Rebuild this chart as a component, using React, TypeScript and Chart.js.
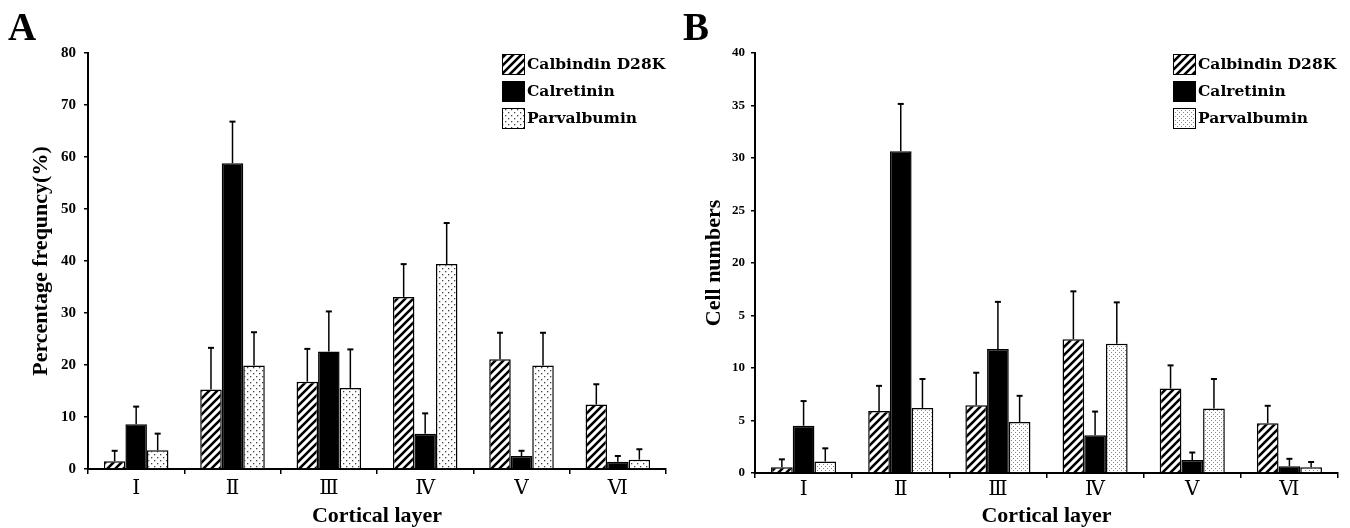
import React, { useEffect, useRef } from 'react';
import { Chart, registerables } from 'chart.js';

Chart.register(...registerables);

// ---------- data ----------
const categories = ['Ⅰ', 'Ⅱ', 'Ⅲ', 'Ⅳ', 'Ⅴ', 'Ⅵ'];
const seriesNames = ['Calbindin D28K', 'Calretinin', 'Parvalbumin'];

// Panel A: percentage frequency (%)
const calbindinPct = [1.5, 15.3, 16.8, 33.1, 21.1, 12.4];
const calbindinPctErr = [2.0, 8.0, 6.3, 6.3, 5.1, 3.9];
const calretininPct = [8.6, 58.8, 22.6, 6.8, 2.5, 1.4];
const calretininPctErr = [3.4, 8.0, 7.7, 3.9, 1.0, 1.1];
const parvalbuminPct = [3.6, 19.9, 15.6, 39.4, 19.9, 1.8];
const parvalbuminPctErr = [3.2, 6.4, 7.4, 7.9, 6.3, 2.0];

// Panel B: cell numbers
const calbindinNum = [0.55, 5.9, 6.45, 12.75, 8.05, 4.75];
const calbindinNumErr = [0.75, 2.4, 3.1, 4.55, 2.2, 1.65];
const calretininNum = [4.5, 30.65, 11.8, 3.6, 1.25, 0.65];
const calretininNumErr = [2.35, 4.5, 4.5, 2.25, 0.7, 0.7];
const parvalbuminNum = [1.1, 6.2, 4.85, 12.3, 6.15, 0.55];
const parvalbuminNumErr = [1.25, 2.75, 2.5, 3.95, 2.8, 0.5];

// tick labels of panel B as printed in the figure
const cellTickLabels = ['0', '5', '10', '5', '20', '25', '30', '35', '40'];

const SERIF = '"Liberation Serif", "Times New Roman", "DejaVu Serif", serif';

// ---------- patterns ----------
function makeHatch(): CanvasPattern | string {
  const s = 8;
  const c = document.createElement('canvas');
  c.width = s;
  c.height = s;
  const g = c.getContext('2d');
  if (!g) return '#fff';
  g.fillStyle = '#fff';
  g.fillRect(0, 0, s, s);
  g.strokeStyle = '#000';
  g.lineWidth = 2.6;
  g.beginPath();
  for (const k of [-s, 0, s]) {
    g.moveTo(k - 1, s + 1);
    g.lineTo(k + s + 1, -1);
  }
  g.stroke();
  return g.createPattern(c, 'repeat') || '#fff';
}

function makeDots(size: number, pts: number[][], color: string, dot: number): CanvasPattern | string {
  const c = document.createElement('canvas');
  c.width = size;
  c.height = size;
  const g = c.getContext('2d');
  if (!g) return '#fff';
  g.fillStyle = '#fff';
  g.fillRect(0, 0, size, size);
  g.fillStyle = color;
  pts.forEach(([x, y]) => g.fillRect(x, y, dot, dot));
  return g.createPattern(c, 'repeat') || '#fff';
}

// ---------- plugins ----------
const errorBarPlugin = {
  id: 'errorBars',
  afterDatasetsDraw(chart: any) {
    const ctx = chart.ctx;
    const yScale = chart.scales.y;
    chart.data.datasets.forEach((ds: any, i: number) => {
      const meta = chart.getDatasetMeta(i);
      meta.data.forEach((bar: any, j: number) => {
        const v = ds.data[j];
        const e = ds.errors[j];
        const top = yScale.getPixelForValue(v + e);
        ctx.save();
        ctx.strokeStyle = '#000';
        ctx.lineWidth = 1.5;
        ctx.beginPath();
        ctx.moveTo(bar.x, bar.y);
        ctx.lineTo(bar.x, top);
        ctx.stroke();
        ctx.lineWidth = 2;
        ctx.beginPath();
        ctx.moveTo(bar.x - 3, top);
        ctx.lineTo(bar.x + 3, top);
        ctx.stroke();
        ctx.restore();
      });
    });
  },
};

const panelDecorPlugin = {
  id: 'panelDecor',
  afterDraw(chart: any, _args: any, opts: any) {
    const ctx = chart.ctx;
    ctx.save();
    ctx.fillStyle = '#000';
    ctx.font = `bold 39px ${SERIF}`;
    ctx.textBaseline = 'alphabetic';
    ctx.textAlign = 'left';
    ctx.fillText(opts.letter, opts.letterX, opts.letterY);

    chart.data.datasets.forEach((ds: any, i: number) => {
      const top = opts.legendY + i * opts.rowPitch;
      const x = opts.legendX;
      ctx.fillStyle = ds.backgroundColor;
      ctx.fillRect(x, top, 23, 21);
      ctx.strokeStyle = '#000';
      ctx.lineWidth = 1;
      ctx.strokeRect(x + 0.5, top + 0.5, 22, 20);
      ctx.fillStyle = '#000';
      ctx.font = opts.legendFont;
      ctx.textBaseline = 'middle';
      ctx.fillText(ds.label, x + 25, top + 11);
    });
    ctx.restore();
  },
};

// ---------- chart panel ----------
function Panel(props: { build: () => any; left: number }) {
  const ref = useRef<HTMLCanvasElement | null>(null);
  useEffect(() => {
    if (!ref.current) return;
    const chart = new Chart(ref.current, props.build());
    return () => chart.destroy();
  }, []);
  return (
    <div style={{ position: 'absolute', left: props.left, top: 0, width: 675, height: 528 }}>
      <canvas ref={ref} width={675} height={528} style={{ width: 675, height: 528, display: 'block' }} />
    </div>
  );
}

function buildConfig(p: {
  values: number[][];
  errors: number[][];
  dotPattern: CanvasPattern | string;
  yMax: number;
  yStep: number;
  yTitle: string;
  yTitlePad: number;
  yWidth: number;
  yTickSize: number;
  yTickPad: number;
  xHeight: number;
  xTickPad: number;
  rightPad: number;
  tickLabels?: string[];
  letter: string;
  letterX: number;
  legendX: number;
}) {
  const hatch = makeHatch();
  const fills = [hatch, '#000', p.dotPattern];
  return {
    type: 'bar',
    data: {
      labels: categories,
      datasets: seriesNames.map((name, i) => ({
        label: name,
        data: p.values[i],
        errors: p.errors[i],
        backgroundColor: fills[i],
        borderColor: '#000',
        borderWidth: 1.5,
        categoryPercentage: 0.67,
        barPercentage: 1.0,
      })),
    },
    options: {
      responsive: false,
      animation: false,
      devicePixelRatio: 1,
      layout: { padding: { left: 0, right: p.rightPad, top: 53, bottom: 0 } },
      plugins: {
        legend: { display: false },
        tooltip: { enabled: false },
        panelDecor: {
          letter: p.letter,
          letterX: p.letterX,
          letterY: 40,
          legendX: p.legendX,
          legendY: 54,
          rowPitch: 27,
          legendFont: 'bold 15.5px "DejaVu Serif", serif',
        },
      },
      scales: {
        x: {
          offset: true,
          grid: {
            offset: true,
            drawOnChartArea: false,
            drawTicks: true,
            tickLength: 5,
            color: '#000',
            lineWidth: 1.5,
          },
          border: { color: '#000', width: 2 },
          ticks: {
            color: '#000',
            font: { family: SERIF, size: 20 },
            padding: p.xTickPad,
            maxRotation: 0,
            autoSkip: false,
          },
          title: {
            display: true,
            text: 'Cortical layer',
            color: '#000',
            font: { family: SERIF, size: 22, weight: 'bold', lineHeight: 1 },
            padding: { top: 0, bottom: 1 },
          },
          afterFit: (s: any) => {
            s.height = p.xHeight;
          },
        },
        y: {
          min: 0,
          max: p.yMax,
          ticks: {
            stepSize: p.yStep,
            color: '#000',
            font: { family: SERIF, size: p.yTickSize, weight: 'bold' },
            padding: p.yTickPad,
            callback: (v: any, idx: number) => (p.tickLabels ? p.tickLabels[idx] : String(v)),
          },
          grid: {
            drawOnChartArea: false,
            tickLength: 4,
            color: '#000',
            lineWidth: 1.5,
          },
          border: { color: '#000', width: 2 },
          title: {
            display: true,
            text: p.yTitle,
            color: '#000',
            font: { family: SERIF, size: 22, weight: 'bold' },
            padding: { top: p.yTitlePad, bottom: 0 },
          },
          afterFit: (s: any) => {
            s.width = p.yWidth;
          },
        },
      },
    },
    plugins: [errorBarPlugin, panelDecorPlugin],
  };
}

export default function App() {
  const buildA = () =>
    buildConfig({
      values: [calbindinPct, calretininPct, parvalbuminPct],
      errors: [calbindinPctErr, calretininPctErr, parvalbuminPctErr],
      dotPattern: makeDots(6, [[1, 1], [4, 4]], '#444', 1.3),
      yMax: 80,
      yStep: 10,
      yTitle: 'Percentage frequncy(%)',
      yTitlePad: 28,
      yWidth: 88,
      yTickSize: 15,
      yTickPad: 8,
      xHeight: 59,
      xTickPad: 3,
      rightPad: 9,
      letter: 'A',
      letterX: 8,
      legendX: 502,
    });
  const buildB = () =>
    buildConfig({
      values: [calbindinNum, calretininNum, parvalbuminNum],
      errors: [calbindinNumErr, calretininNumErr, parvalbuminNumErr],
      dotPattern: makeDots(4, [[0, 0], [2, 2]], '#888', 1),
      yMax: 40,
      yStep: 5,
      yTitle: 'Cell numbers',
      yTitlePad: 26,
      yWidth: 80,
      yTickSize: 13,
      yTickPad: 6,
      xHeight: 55,
      xTickPad: 0,
      rightPad: 12,
      tickLabels: cellTickLabels,
      letter: 'B',
      letterX: 8,
      legendX: 498,
    });
  return (
    <div style={{ position: 'absolute', left: 0, top: 0, width: 1350, height: 528, background: '#fff' }}>
      <Panel build={buildA} left={0} />
      <Panel build={buildB} left={675} />
    </div>
  );
}
